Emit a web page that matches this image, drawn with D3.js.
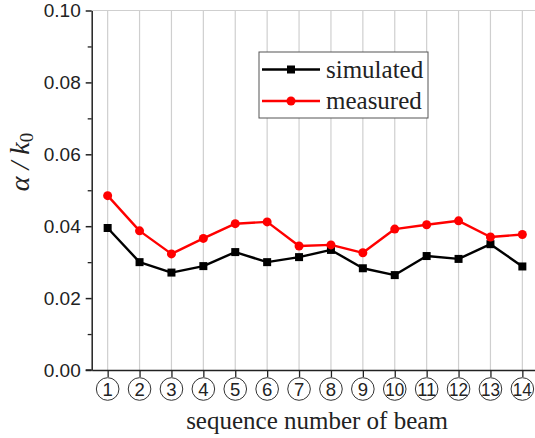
<!DOCTYPE html>
<html>
<head>
<meta charset="utf-8">
<script src="https://cdn.jsdelivr.net/npm/d3@7/dist/d3.min.js"></script>
<style>
  html, body { margin: 0; padding: 0; background: #fff; }
  svg { display: block; }
</style>
</head>
<body>
<svg id="chart" width="535" height="438"></svg>
<script>
// Beam sequence numbers and attenuation ratio alpha / k0
const beams = [1, 2, 3, 4, 5, 6, 7, 8, 9, 10, 11, 12, 13, 14];
const simulated = [0.0395, 0.0300, 0.0271, 0.0289, 0.0328, 0.0300, 0.0314, 0.0334, 0.0283, 0.0264, 0.0317, 0.0309, 0.0350, 0.0288];
const measured  = [0.0485, 0.0387, 0.0323, 0.0366, 0.0407, 0.0412, 0.0345, 0.0348, 0.0326, 0.0392, 0.0404, 0.0415, 0.0370, 0.0377];
const yMajorTicks = [0.00, 0.02, 0.04, 0.06, 0.08, 0.10];
const yMinorTicks = [0.01, 0.03, 0.05, 0.07, 0.09];
const seriesNames = ["simulated", "measured"];

const svg = d3.select("#chart");
const plotLeft = 91.7, plotRight = 538.3, plotTop = 10.5, plotBottom = 370;

const x = d3.scaleLinear().domain([0.5, 14.5]).range([plotLeft, plotRight]);
const y = d3.scaleLinear().domain([0, 0.1]).range([plotBottom, plotTop]);

// vertical grid lines at each beam
svg.append("g")
  .selectAll("line")
  .data(beams)
  .join("line")
  .attr("x1", d => x(d)).attr("x2", d => x(d))
  .attr("y1", plotBottom).attr("y2", plotTop)
  .attr("stroke", "#cfcfcf").attr("stroke-width", 1.2);

// top border
svg.append("line")
  .attr("x1", plotLeft).attr("x2", 535)
  .attr("y1", plotTop).attr("y2", plotTop)
  .attr("stroke", "#cfcfcf").attr("stroke-width", 1.2);

// y axis: minor ticks
svg.append("g")
  .attr("transform", `translate(${plotLeft},0)`)
  .call(d3.axisLeft(y).tickValues(yMinorTicks).tickSize(4).tickFormat(""))
  .call(g => g.select(".domain").remove())
  .call(g => g.selectAll("line").attr("stroke", "#222").attr("stroke-width", 1.3));

// y axis: major ticks with labels
svg.append("g")
  .attr("transform", `translate(${plotLeft},0)`)
  .call(d3.axisLeft(y).tickValues(yMajorTicks).tickSize(6).tickSizeOuter(0).tickPadding(5).tickFormat(d3.format(".2f")))
  .call(g => g.select(".domain").attr("stroke", "#222").attr("stroke-width", 1.5))
  .call(g => g.selectAll("line").attr("stroke", "#222").attr("stroke-width", 1.5))
  .call(g => g.selectAll("text")
    .attr("font-family", "'Liberation Sans', Arial, sans-serif")
    .attr("font-size", 19).attr("fill", "#222"));

// x axis
svg.append("g")
  .attr("transform", `translate(0,${plotBottom})`)
  .call(d3.axisBottom(x).tickValues(beams).tickSize(7).tickSizeOuter(0).tickFormat(""))
  .call(g => g.select(".domain").attr("stroke", "#222").attr("stroke-width", 1.5))
  .call(g => g.selectAll("line").attr("stroke", "#222").attr("stroke-width", 1.3));

// extend baseline slightly left of the y axis
svg.append("line")
  .attr("x1", plotLeft - 6).attr("x2", plotLeft)
  .attr("y1", plotBottom).attr("y2", plotBottom)
  .attr("stroke", "#222").attr("stroke-width", 1.5);

// circled beam numbers
const labels = svg.append("g")
  .selectAll("g")
  .data(beams)
  .join("g")
  .attr("transform", d => `translate(${x(d)},${plotBottom + 19})`);
labels.append("circle")
  .attr("r", 11.3)
  .attr("fill", "none").attr("stroke", "#333").attr("stroke-width", 1);
labels.append("text")
  .attr("text-anchor", "middle")
  .attr("y", 6.5)
  .attr("font-family", "'Liberation Sans', Arial, sans-serif")
  .attr("font-size", 18.5)
  .attr("fill", "#222")
  .text(d => d)
  .each(function (d) {
    if (d >= 10) d3.select(this).attr("textLength", 19).attr("lengthAdjust", "spacingAndGlyphs");
  });

// axis titles
svg.append("text")
  .attr("x", 317).attr("y", 429)
  .attr("text-anchor", "middle")
  .attr("font-family", "'Liberation Serif', 'Times New Roman', serif")
  .attr("font-size", 25).attr("fill", "#222")
  .text("sequence number of beam");

const yTitle = svg.append("text")
  .attr("transform", "translate(29,162) rotate(-90)")
  .attr("text-anchor", "middle")
  .attr("font-family", "'Liberation Serif', 'Times New Roman', serif")
  .attr("font-style", "italic")
  .attr("font-size", 28).attr("fill", "#222");
yTitle.append("tspan").text("α / k");
yTitle.append("tspan").attr("font-size", 19).attr("font-style", "normal").attr("dy", 4).text("0");

// series lines and markers
const line = d3.line().x((d, i) => x(beams[i])).y(d => y(d));

svg.append("path").datum(simulated)
  .attr("d", line).attr("fill", "none")
  .attr("stroke", "#000").attr("stroke-width", 2.4).attr("stroke-linejoin", "round");
svg.append("g").selectAll("rect").data(simulated).join("rect")
  .attr("x", (d, i) => x(beams[i]) - 4).attr("y", d => y(d) - 4)
  .attr("width", 8).attr("height", 8).attr("fill", "#000");

svg.append("path").datum(measured)
  .attr("d", line).attr("fill", "none")
  .attr("stroke", "#ff0000").attr("stroke-width", 2.4).attr("stroke-linejoin", "round");
svg.append("g").selectAll("circle").data(measured).join("circle")
  .attr("cx", (d, i) => x(beams[i])).attr("cy", d => y(d))
  .attr("r", 4.5).attr("fill", "#ff0000");

// legend
const legend = svg.append("g");
legend.append("rect")
  .attr("x", 259).attr("y", 52).attr("width", 169).attr("height", 66)
  .attr("fill", "#fff").attr("stroke", "#555").attr("stroke-width", 1);
const rows = legend.selectAll("g.row").data(seriesNames).join("g")
  .attr("class", "row")
  .attr("transform", (d, i) => `translate(0,${69.5 + i * 31.5})`);
rows.append("line")
  .attr("x1", 262).attr("x2", 320).attr("y1", 0).attr("y2", 0)
  .attr("stroke", (d, i) => i === 0 ? "#000" : "#ff0000").attr("stroke-width", 2.4);
rows.filter((d, i) => i === 0).append("rect")
  .attr("x", 287).attr("y", -4).attr("width", 8).attr("height", 8).attr("fill", "#000");
rows.filter((d, i) => i === 1).append("circle")
  .attr("cx", 291).attr("cy", 0).attr("r", 4.5).attr("fill", "#ff0000");
rows.append("text")
  .attr("x", 326).attr("y", 8)
  .attr("font-family", "'Liberation Serif', 'Times New Roman', serif")
  .attr("font-size", 25).attr("fill", "#222")
  .text(d => d);
</script>
</body>
</html>
